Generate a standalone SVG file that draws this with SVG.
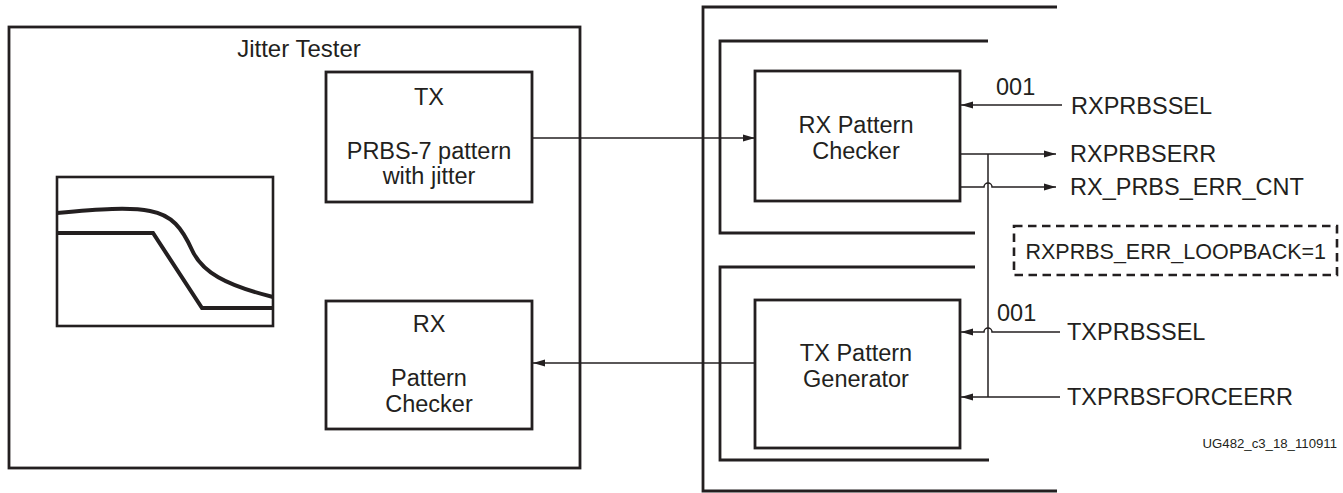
<svg xmlns="http://www.w3.org/2000/svg" width="1343" height="493" viewBox="0 0 1343 493">
<style>
  .box{fill:#fff;stroke:#231f20;stroke-width:2.8}
  .frame{fill:none;stroke:#231f20;stroke-width:2.8}
  .wire{fill:none;stroke:#231f20;stroke-width:1.5}
  .t{font-family:"Liberation Sans",Arial,sans-serif;font-size:23.5px;fill:#231f20}
  .c{text-anchor:middle}
  .curve{fill:none;stroke:#231f20;stroke-width:4;stroke-linejoin:miter}
</style>
<defs>
  <marker id="arr" viewBox="0 0 12 8" refX="12" refY="4" markerWidth="12" markerHeight="8" markerUnits="userSpaceOnUse" orient="auto">
    <path d="M0,0.5 L12,4 L0,7.5 Z" fill="#231f20"/>
  </marker>
</defs>
<rect width="1343" height="493" fill="#fff"/>

<g id="jitter-tester">
  <rect class="frame" x="9" y="27" width="571" height="441"/>
  <text class="t c" x="299" y="57" style="font-size:24px">Jitter Tester</text>
</g>

<g id="tx-box">
  <rect class="box" x="326" y="72" width="206" height="130"/>
  <text class="t c" x="429" y="105">TX</text>
  <text class="t c" x="429" y="159">PRBS-7 pattern</text>
  <text class="t c" x="429" y="184">with jitter</text>
</g>

<g id="rx-box">
  <rect class="box" x="326" y="301" width="206" height="128"/>
  <text class="t c" x="429" y="332">RX</text>
  <text class="t c" x="429" y="386">Pattern</text>
  <text class="t c" x="429" y="412">Checker</text>
</g>

<g id="graph">
  <rect x="57" y="177" width="216" height="149" fill="#fff" stroke="#231f20" stroke-width="2.6"/>
  <path class="curve" d="M57,213 C100,209 130,207 150,211 C172,215 182,228 192,250 C202,272 225,285 273,297"/>
  <path class="curve" d="M57,233 L153,233 L202,308 L273,308"/>
</g>

<g id="transceiver-frame">
  <path class="frame" d="M1057,7 L703,7 L703,491 L1057,491"/>
</g>

<g id="rx-bracket">
  <path class="frame" d="M988,41 L720,41 L720,233 L975,233"/>
</g>

<g id="tx-bracket">
  <path class="frame" d="M975,267 L720,267 L720,460 L989,460"/>
</g>

<g id="rx-pattern-checker">
  <rect class="box" x="755" y="71" width="205" height="130"/>
  <text class="t c" x="856" y="133">RX Pattern</text>
  <text class="t c" x="856" y="159">Checker</text>
</g>

<g id="tx-pattern-generator">
  <rect class="box" x="755" y="300" width="205" height="148"/>
  <text class="t c" x="856" y="361">TX Pattern</text>
  <text class="t c" x="856" y="387">Generator</text>
</g>

<g id="loopback-note">
  <rect x="1014" y="226" width="323" height="49" fill="none" stroke="#231f20" stroke-width="2.6" stroke-dasharray="8.5 5.5"/>
  <text class="t" x="1025.5" y="259" style="font-size:21.5px">RXPRBS_ERR_LOOPBACK=1</text>
</g>

<g id="connectors">
  <path class="wire" d="M532,138 L755,138" marker-end="url(#arr)"/>
  <path class="wire" d="M755,363 L533,363" marker-end="url(#arr)"/>
  <path class="wire" d="M1062,105 L961,105" marker-end="url(#arr)"/>
  <path class="wire" d="M960,154 L1056,154" marker-end="url(#arr)"/>
  <path class="wire" d="M960,187 L984,187 A4,4 0 0 1 992,187 L1056,187" marker-end="url(#arr)"/>
  <path class="wire" d="M988,154 L988,397"/>
  <path class="wire" d="M1060,332 L992,332 A4,4 0 0 0 984,332 L961,332" marker-end="url(#arr)"/>
  <path class="wire" d="M1060,397 L961,397" marker-end="url(#arr)"/>
</g>

<g id="labels">
  <text class="t" x="996" y="95">001</text>
  <text class="t" x="997" y="321">001</text>
  <text class="t" x="1071" y="114">RXPRBSSEL</text>
  <text class="t" x="1070" y="162">RXPRBSERR</text>
  <text class="t" x="1070" y="195">RX_PRBS_ERR_CNT</text>
  <text class="t" x="1067" y="340">TXPRBSSEL</text>
  <text class="t" x="1067" y="405">TXPRBSFORCEERR</text>
  <text class="t" x="1337" y="448" text-anchor="end" style="font-size:13.2px">UG482_c3_18_110911</text>
</g>
</svg>
